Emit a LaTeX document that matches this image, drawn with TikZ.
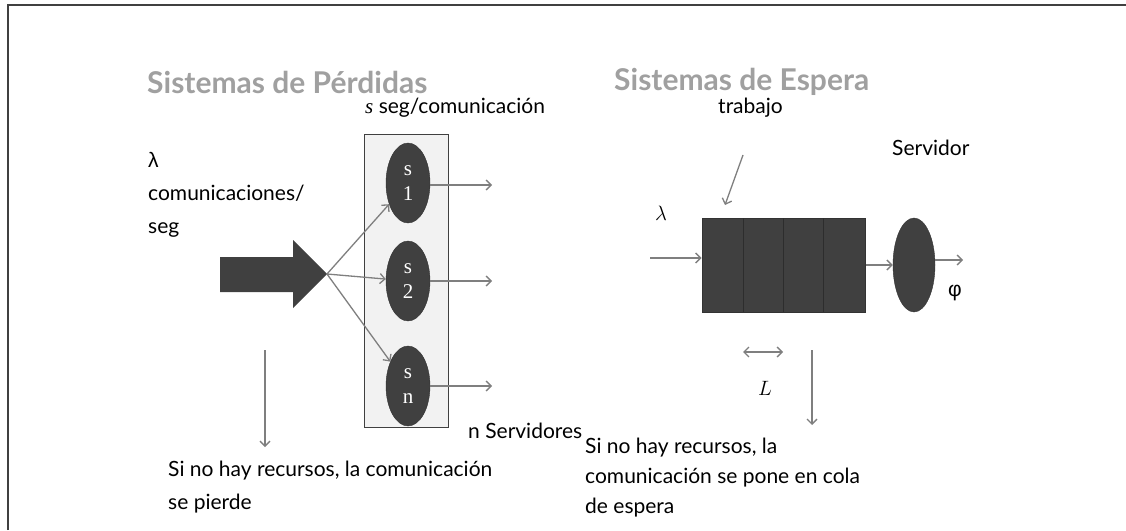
\documentclass[tikz,border=0pt]{standalone}
\usepackage{fontspec}
\setmainfont{Lato}
\newfontfamily\serifa{Liberation Serif}
\newfontfamily\griega{Liberation Sans}
\usetikzlibrary{shapes.geometric,arrows.meta}
\definecolor{oscuro}{HTML}{404040}
\definecolor{linea}{HTML}{7F7F7F}
\definecolor{gristit}{HTML}{A0A0A0}
\definecolor{fondocaja}{HTML}{F2F2F2}
\tikzset{
  titulo/.style={anchor=west,inner sep=0pt,font=\fontsize{30}{34}\selectfont\bfseries,text=gristit},
  texto/.style={inner sep=0pt,font=\fontsize{21}{33}\selectfont,align=left},
  servidor/.style={ellipse,fill=oscuro,draw=oscuro!80!black,minimum width=44,minimum height=80,inner sep=0pt,text=white,align=center,font=\serifa\fontsize{21}{25}\selectfont},
  flecha/.style={-{Straight Barb[length=5pt,width=10pt]},draw=linea,line width=1.3pt},
}
\begin{document}
\begin{tikzpicture}[x=1pt,y=-1pt]
\useasboundingbox (0,0) rectangle (1126,530);
\draw [line width=2pt,oscuro] (8,530) -- (8,5) -- (1126,5);
% titulos
\node [titulo] (t1) at (147,82) {Sistemas de Pérdidas};
\node [titulo] (t2) at (614,82) {Sistemas de Espera};
% sistema de perdidas
\node [texto,anchor=west] (seg) at (365,108) {{\serifa\itshape s} seg/comunicación};
\node [texto,anchor=north west] (lam) at (148,152) {{\griega λ}\\comunicaciones/\\seg};
\fill [oscuro] (220,257) -- (293,257) -- (293,240) -- (327,274) -- (293,308) -- (293,292) -- (220,292) -- cycle;
\coordinate (tip) at (327,274);
\node [draw=oscuro,fill=fondocaja,line width=1pt,minimum width=84,minimum height=293] (caja) at (406,280.5) {};
\node [servidor] (s1) at (408,183) {s\\1};
\node [servidor] (s2) at (408,281) {s\\2};
\node [servidor] (sn) at (408,386) {s\\n};
\draw [flecha] (tip) -- (s1);
\draw [flecha] (tip) -- (s2);
\draw [flecha] (tip) -- (sn);
\coordinate (o1) at (492,185);
\coordinate (o2) at (492,281);
\coordinate (on) at (492,386);
\draw [flecha] (s1.east |- o1) -- (o1);
\draw [flecha] (s2.east) -- (o2);
\draw [flecha] (sn.east) -- (on);
\node [texto,anchor=west] (nserv) at (468,431) {n Servidores};
\coordinate (p1) at (265,350);
\coordinate (p2) at (265,447);
\draw [flecha] (p1) -- (p2);
\node [texto,anchor=north west] (pierde) at (168,461) {Si no hay recursos, la comunicación\\se pierde};
% sistema de espera
\node [texto,anchor=west] (trab) at (718,108) {trabajo};
\coordinate (w1) at (743,155);
\coordinate (w2) at (725,205);
\draw [flecha] (w1) -- (w2);
\node [texto,anchor=west] (serv) at (892,148) {Servidor};
\node [texto] (lam2) at (661,213) {$\lambda$};
\node [draw=oscuro!80!black,fill=oscuro,line width=1pt,minimum width=163,minimum height=94,inner sep=0pt] (cola) at (783.5,265) {};
\draw [oscuro!70!black,line width=1pt] (743,218) -- (743,312);
\draw [oscuro!70!black,line width=1pt] (783,218) -- (783,312);
\draw [oscuro!70!black,line width=1pt] (823,218) -- (823,312);
\coordinate (e1) at (650,258);
\draw [flecha] (e1) -- (e1 -| cola.west);
\node [ellipse,fill=oscuro,draw=oscuro!80!black,minimum width=42,minimum height=94,inner sep=0pt] (srv) at (914,265) {};
\draw [flecha] (cola.east) -- (srv.west);
\coordinate (e2) at (963,260);
\draw [flecha] (srv.east |- e2) -- (e2);
\node [texto] (phi) at (955,293) {\griega φ};
\coordinate (l1) at (743,352);
\coordinate (l2) at (783,352);
\draw [flecha,{Straight Barb[length=5pt,width=10pt]}-{Straight Barb[length=5pt,width=10pt]}] (l1) -- (l2);
\node [texto] (ele) at (765,388) {$L$};
\coordinate (d1) at (812,350);
\coordinate (d2) at (812,425);
\draw [flecha] (d1) -- (d2);
\node [texto,anchor=north west,font=\fontsize{21}{30}\selectfont] (espera) at (585,438) {Si no hay recursos, la\\comunicación se pone en cola\\de espera};
\end{tikzpicture}
\end{document}
